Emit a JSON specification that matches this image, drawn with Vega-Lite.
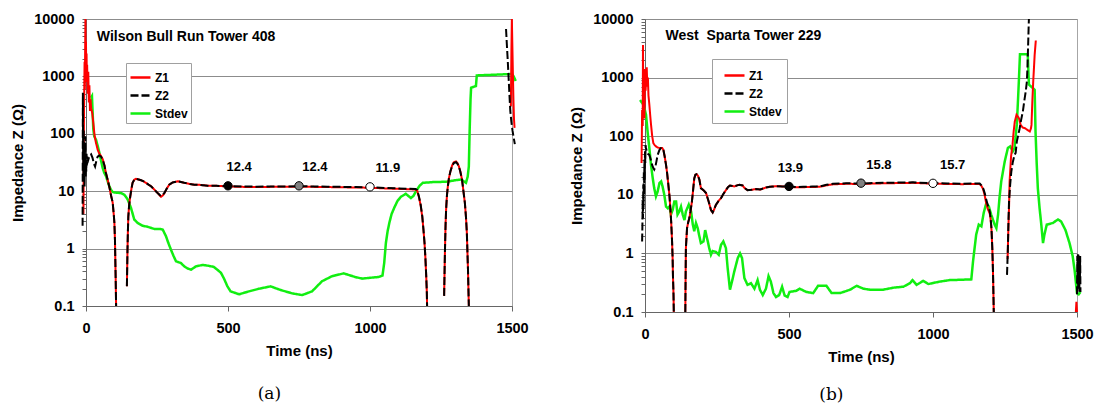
{
"$schema": "https://vega.github.io/schema/vega-lite/v6.json",
"padding": {"left": 10, "top": 10, "right": 0, "bottom": 0},
"spacing": 40,
"config": {
 "view": {"stroke": "#a6a6a6", "strokeWidth": 1},
 "axis": {"labelFont": "Liberation Sans", "labelFontWeight": "bold", "labelFontSize": 14.5, "labelColor": "#000", "titleFont": "Liberation Sans", "titleFontWeight": "bold", "titleFontSize": 15, "titleColor": "#000", "domainColor": "#666", "tickColor": "#666"}
},
"datasets": {
"a": [
{"s":"Z2","g":1,"t":-12,"z":2.5},{"s":"Z2","g":1,"t":-11,"z":520},{"s":"Z2","g":1,"t":-10,"z":40},{"s":"Z2","g":1,"t":-9,"z":15},{"s":"Z2","g":1,"t":-8,"z":120},{"s":"Z2","g":1,"t":-7,"z":20},{"s":"Z2","g":1,"t":-6,"z":70},{"s":"Z2","g":1,"t":-5,"z":12},{"s":"Z2","g":1,"t":-4,"z":50},{"s":"Z2","g":1,"t":-3,"z":25},{"s":"Z2","g":1,"t":-2,"z":90},{"s":"Z2","g":1,"t":-1,"z":18},{"s":"Z2","g":1,"t":0,"z":35},{"s":"Z2","g":1,"t":1,"z":22},{"s":"Z2","g":1,"t":2,"z":45},{"s":"Z2","g":1,"t":3,"z":28},{"s":"Z2","g":1,"t":5,"z":40},{"s":"Z2","g":1,"t":8,"z":35},{"s":"Z2","g":1,"t":12,"z":41},{"s":"Z2","g":1,"t":18,"z":44},{"s":"Z2","g":1,"t":23,"z":38},{"s":"Z2","g":1,"t":28,"z":30},{"s":"Z2","g":1,"t":32,"z":27},{"s":"Z2","g":1,"t":36,"z":33},{"s":"Z2","g":1,"t":41,"z":40},{"s":"Z2","g":1,"t":47,"z":42},{"s":"Z2","g":1,"t":53,"z":40},{"s":"Z2","g":1,"t":59,"z":35},{"s":"Z2","g":1,"t":65,"z":28},{"s":"Z2","g":1,"t":70,"z":21},{"s":"Z2","g":1,"t":76,"z":16},{"s":"Z2","g":1,"t":82,"z":12},{"s":"Z2","g":1,"t":88,"z":8.5},{"s":"Z2","g":1,"t":94,"z":6.3},{"s":"Z2","g":1,"t":98,"z":3.8},{"s":"Z2","g":1,"t":100,"z":2.8},{"s":"Z2","g":1,"t":102,"z":1.4},{"s":"Z2","g":1,"t":103,"z":0.74},{"s":"Z2","g":1,"t":104.5,"z":0.3},{"s":"Z2","g":1,"t":106,"z":0.1},
{"s":"Z2","g":2,"t":144,"z":0.22},{"s":"Z2","g":2,"t":146,"z":0.9},{"s":"Z2","g":2,"t":147.5,"z":2},{"s":"Z2","g":2,"t":149,"z":3.6},{"s":"Z2","g":2,"t":152,"z":5.8},{"s":"Z2","g":2,"t":156,"z":8.2},{"s":"Z2","g":2,"t":160,"z":11},{"s":"Z2","g":2,"t":164,"z":14},{"s":"Z2","g":2,"t":170,"z":15.8},{"s":"Z2","g":2,"t":176,"z":16.4},{"s":"Z2","g":2,"t":185,"z":16},{"s":"Z2","g":2,"t":194,"z":15.5},{"s":"Z2","g":2,"t":203,"z":14.8},{"s":"Z2","g":2,"t":211,"z":14},{"s":"Z2","g":2,"t":220,"z":13},{"s":"Z2","g":2,"t":229,"z":12.2},{"s":"Z2","g":2,"t":238,"z":11},{"s":"Z2","g":2,"t":246,"z":10},{"s":"Z2","g":2,"t":255,"z":9},{"s":"Z2","g":2,"t":264,"z":8.2},{"s":"Z2","g":2,"t":270,"z":8.6},{"s":"Z2","g":2,"t":276,"z":9.3},{"s":"Z2","g":2,"t":284,"z":11},{"s":"Z2","g":2,"t":293,"z":13},{"s":"Z2","g":2,"t":305,"z":14.2},{"s":"Z2","g":2,"t":323,"z":14.9},{"s":"Z2","g":2,"t":346,"z":14},{"s":"Z2","g":2,"t":365,"z":13.4},{"s":"Z2","g":2,"t":381,"z":13},{"s":"Z2","g":2,"t":400,"z":12.9},{"s":"Z2","g":2,"t":428,"z":12.5},{"s":"Z2","g":2,"t":460,"z":12.4},{"s":"Z2","g":2,"t":500,"z":12.3},{"s":"Z2","g":2,"t":550,"z":12.1},{"s":"Z2","g":2,"t":600,"z":12.0},{"s":"Z2","g":2,"t":650,"z":12.1},{"s":"Z2","g":2,"t":700,"z":12.1},{"s":"Z2","g":2,"t":750,"z":12.2},{"s":"Z2","g":2,"t":800,"z":12.1},{"s":"Z2","g":2,"t":850,"z":12.0},{"s":"Z2","g":2,"t":900,"z":11.9},{"s":"Z2","g":2,"t":950,"z":11.8},{"s":"Z2","g":2,"t":1000,"z":11.7},{"s":"Z2","g":2,"t":1050,"z":11.4},{"s":"Z2","g":2,"t":1100,"z":11.2},{"s":"Z2","g":2,"t":1140,"z":11},{"s":"Z2","g":2,"t":1160,"z":10.9},{"s":"Z2","g":2,"t":1166,"z":10.5},{"s":"Z2","g":2,"t":1172,"z":8.2},{"s":"Z2","g":2,"t":1178,"z":6},{"s":"Z2","g":2,"t":1184,"z":3.7},{"s":"Z2","g":2,"t":1188,"z":2.2},{"s":"Z2","g":2,"t":1192,"z":1.25},{"s":"Z2","g":2,"t":1195,"z":0.7},{"s":"Z2","g":2,"t":1198,"z":0.33},{"s":"Z2","g":2,"t":1200,"z":0.18},{"s":"Z2","g":2,"t":1201,"z":0.1},
{"s":"Z2","g":3,"t":1261,"z":0.15},{"s":"Z2","g":3,"t":1264,"z":0.96},{"s":"Z2","g":3,"t":1266,"z":2.5},{"s":"Z2","g":3,"t":1268,"z":4.8},{"s":"Z2","g":3,"t":1271,"z":8.5},{"s":"Z2","g":3,"t":1274,"z":12},{"s":"Z2","g":3,"t":1278,"z":17},{"s":"Z2","g":3,"t":1283,"z":22},{"s":"Z2","g":3,"t":1289,"z":27},{"s":"Z2","g":3,"t":1295,"z":31},{"s":"Z2","g":3,"t":1303,"z":32},{"s":"Z2","g":3,"t":1308,"z":30},{"s":"Z2","g":3,"t":1313,"z":27},{"s":"Z2","g":3,"t":1318,"z":22},{"s":"Z2","g":3,"t":1324,"z":16},{"s":"Z2","g":3,"t":1329,"z":10},{"s":"Z2","g":3,"t":1334,"z":6.3},{"s":"Z2","g":3,"t":1338,"z":3.5},{"s":"Z2","g":3,"t":1341,"z":1.9},{"s":"Z2","g":3,"t":1343,"z":0.9},{"s":"Z2","g":3,"t":1345,"z":0.43},{"s":"Z2","g":3,"t":1348,"z":0.1},
{"s":"Z2","g":4,"t":1479,"z":6700},{"s":"Z2","g":4,"t":1482,"z":3500},{"s":"Z2","g":4,"t":1485,"z":1900},{"s":"Z2","g":4,"t":1488,"z":960},{"s":"Z2","g":4,"t":1491,"z":480},{"s":"Z2","g":4,"t":1494,"z":250},{"s":"Z2","g":4,"t":1498,"z":160},{"s":"Z2","g":4,"t":1502,"z":112},{"s":"Z2","g":4,"t":1506,"z":85},{"s":"Z2","g":4,"t":1510,"z":66},
{"s":"Z1","g":1,"t":-9,"z":4},{"s":"Z1","g":1,"t":-7,"z":250},{"s":"Z1","g":1,"t":-5,"z":1800},{"s":"Z1","g":1,"t":-4,"z":600},{"s":"Z1","g":1,"t":-3,"z":3000},{"s":"Z1","g":1,"t":-2,"z":10000},{"s":"Z1","g":1,"t":-1,"z":1500},{"s":"Z1","g":1,"t":0,"z":4000},{"s":"Z1","g":1,"t":1,"z":800},{"s":"Z1","g":1,"t":2,"z":2500},{"s":"Z1","g":1,"t":3,"z":900},{"s":"Z1","g":1,"t":4,"z":1600},{"s":"Z1","g":1,"t":6,"z":500},{"s":"Z1","g":1,"t":8,"z":1200},{"s":"Z1","g":1,"t":10,"z":350},{"s":"Z1","g":1,"t":12,"z":700},{"s":"Z1","g":1,"t":14,"z":250},{"s":"Z1","g":1,"t":16,"z":400},{"s":"Z1","g":1,"t":18,"z":280},{"s":"Z1","g":1,"t":22,"z":230},{"s":"Z1","g":1,"t":26,"z":150},{"s":"Z1","g":1,"t":30,"z":95},{"s":"Z1","g":1,"t":35,"z":70},{"s":"Z1","g":1,"t":41,"z":53},{"s":"Z1","g":1,"t":47,"z":45},{"s":"Z1","g":1,"t":53,"z":41},{"s":"Z1","g":1,"t":59,"z":36},{"s":"Z1","g":1,"t":65,"z":28},{"s":"Z1","g":1,"t":70,"z":21},{"s":"Z1","g":1,"t":76,"z":16},{"s":"Z1","g":1,"t":82,"z":12},{"s":"Z1","g":1,"t":88,"z":8.5},{"s":"Z1","g":1,"t":94,"z":6.3},{"s":"Z1","g":1,"t":98,"z":3.8},{"s":"Z1","g":1,"t":100,"z":2.8},{"s":"Z1","g":1,"t":102,"z":1.4},{"s":"Z1","g":1,"t":103,"z":0.74},{"s":"Z1","g":1,"t":104.5,"z":0.3},{"s":"Z1","g":1,"t":106,"z":0.1},
{"s":"Z1","g":2,"t":144,"z":0.22},{"s":"Z1","g":2,"t":146,"z":0.9},{"s":"Z1","g":2,"t":147.5,"z":2},{"s":"Z1","g":2,"t":149,"z":3.6},{"s":"Z1","g":2,"t":152,"z":5.8},{"s":"Z1","g":2,"t":156,"z":8.2},{"s":"Z1","g":2,"t":160,"z":11},{"s":"Z1","g":2,"t":164,"z":14},{"s":"Z1","g":2,"t":170,"z":15.8},{"s":"Z1","g":2,"t":176,"z":16.4},{"s":"Z1","g":2,"t":185,"z":16},{"s":"Z1","g":2,"t":194,"z":15.5},{"s":"Z1","g":2,"t":203,"z":14.8},{"s":"Z1","g":2,"t":211,"z":14},{"s":"Z1","g":2,"t":220,"z":13},{"s":"Z1","g":2,"t":229,"z":12.2},{"s":"Z1","g":2,"t":238,"z":11},{"s":"Z1","g":2,"t":246,"z":10},{"s":"Z1","g":2,"t":255,"z":9},{"s":"Z1","g":2,"t":264,"z":8.0},{"s":"Z1","g":2,"t":270,"z":8.4},{"s":"Z1","g":2,"t":276,"z":9.2},{"s":"Z1","g":2,"t":284,"z":11},{"s":"Z1","g":2,"t":293,"z":13},{"s":"Z1","g":2,"t":305,"z":14.2},{"s":"Z1","g":2,"t":323,"z":14.9},{"s":"Z1","g":2,"t":346,"z":14},{"s":"Z1","g":2,"t":365,"z":13.4},{"s":"Z1","g":2,"t":381,"z":13},{"s":"Z1","g":2,"t":400,"z":12.9},{"s":"Z1","g":2,"t":428,"z":12.5},{"s":"Z1","g":2,"t":460,"z":12.4},{"s":"Z1","g":2,"t":500,"z":12.1},{"s":"Z1","g":2,"t":550,"z":11.9},{"s":"Z1","g":2,"t":600,"z":11.8},{"s":"Z1","g":2,"t":650,"z":11.9},{"s":"Z1","g":2,"t":700,"z":11.9},{"s":"Z1","g":2,"t":750,"z":12.0},{"s":"Z1","g":2,"t":800,"z":11.9},{"s":"Z1","g":2,"t":850,"z":11.8},{"s":"Z1","g":2,"t":900,"z":11.7},{"s":"Z1","g":2,"t":950,"z":11.6},{"s":"Z1","g":2,"t":1000,"z":11.5},{"s":"Z1","g":2,"t":1050,"z":11.2},{"s":"Z1","g":2,"t":1100,"z":11.0},{"s":"Z1","g":2,"t":1140,"z":10.8},{"s":"Z1","g":2,"t":1160,"z":10.7},{"s":"Z1","g":2,"t":1166,"z":10.3},{"s":"Z1","g":2,"t":1172,"z":8.0},{"s":"Z1","g":2,"t":1178,"z":5.8},{"s":"Z1","g":2,"t":1184,"z":3.6},{"s":"Z1","g":2,"t":1188,"z":2.2},{"s":"Z1","g":2,"t":1192,"z":1.25},{"s":"Z1","g":2,"t":1195,"z":0.7},{"s":"Z1","g":2,"t":1198,"z":0.33},{"s":"Z1","g":2,"t":1200,"z":0.18},{"s":"Z1","g":2,"t":1201,"z":0.1},
{"s":"Z1","g":3,"t":1261,"z":0.15},{"s":"Z1","g":3,"t":1264,"z":0.96},{"s":"Z1","g":3,"t":1266,"z":2.5},{"s":"Z1","g":3,"t":1268,"z":4.8},{"s":"Z1","g":3,"t":1271,"z":8.5},{"s":"Z1","g":3,"t":1274,"z":12},{"s":"Z1","g":3,"t":1278,"z":17},{"s":"Z1","g":3,"t":1283,"z":22},{"s":"Z1","g":3,"t":1289,"z":28},{"s":"Z1","g":3,"t":1295,"z":32},{"s":"Z1","g":3,"t":1303,"z":33},{"s":"Z1","g":3,"t":1308,"z":31},{"s":"Z1","g":3,"t":1313,"z":27},{"s":"Z1","g":3,"t":1318,"z":22},{"s":"Z1","g":3,"t":1324,"z":16},{"s":"Z1","g":3,"t":1329,"z":10},{"s":"Z1","g":3,"t":1334,"z":6.3},{"s":"Z1","g":3,"t":1338,"z":3.5},{"s":"Z1","g":3,"t":1341,"z":1.9},{"s":"Z1","g":3,"t":1343,"z":0.9},{"s":"Z1","g":3,"t":1345,"z":0.43},{"s":"Z1","g":3,"t":1348,"z":0.1},
{"s":"Z1","g":4,"t":1496,"z":300},{"s":"Z1","g":4,"t":1498,"z":3000},{"s":"Z1","g":4,"t":1499.5,"z":10000},{"s":"Z1","g":4,"t":1501,"z":4000},{"s":"Z1","g":4,"t":1503,"z":1200},{"s":"Z1","g":4,"t":1505,"z":400},{"s":"Z1","g":4,"t":1507,"z":180},{"s":"Z1","g":4,"t":1509,"z":127},
{"s":"Stdev","g":1,"t":17.6,"z":425},{"s":"Stdev","g":1,"t":21,"z":454},{"s":"Stdev","g":1,"t":25.8,"z":119},{"s":"Stdev","g":1,"t":29,"z":90},{"s":"Stdev","g":1,"t":35.2,"z":79},{"s":"Stdev","g":1,"t":41,"z":62},{"s":"Stdev","g":1,"t":47,"z":47},{"s":"Stdev","g":1,"t":53,"z":34},{"s":"Stdev","g":1,"t":58.7,"z":25.5},{"s":"Stdev","g":1,"t":64,"z":21},{"s":"Stdev","g":1,"t":70.4,"z":18.3},{"s":"Stdev","g":1,"t":76,"z":15},{"s":"Stdev","g":1,"t":82.2,"z":12.2},{"s":"Stdev","g":1,"t":88,"z":10.6},{"s":"Stdev","g":1,"t":93.9,"z":9.7},{"s":"Stdev","g":1,"t":100,"z":9.5},{"s":"Stdev","g":1,"t":111.5,"z":9.4},{"s":"Stdev","g":1,"t":125,"z":9.2},{"s":"Stdev","g":1,"t":135,"z":8.7},{"s":"Stdev","g":1,"t":146.7,"z":7.2},{"s":"Stdev","g":1,"t":158.5,"z":5.1},{"s":"Stdev","g":1,"t":170,"z":3.2},{"s":"Stdev","g":1,"t":182,"z":2.8},{"s":"Stdev","g":1,"t":199.5,"z":2.5},{"s":"Stdev","g":1,"t":217,"z":2.4},{"s":"Stdev","g":1,"t":240.6,"z":2.2},{"s":"Stdev","g":1,"t":260,"z":2.2},{"s":"Stdev","g":1,"t":270,"z":2.15},{"s":"Stdev","g":1,"t":281.7,"z":1.64},{"s":"Stdev","g":1,"t":290,"z":1.25},{"s":"Stdev","g":1,"t":299,"z":0.96},{"s":"Stdev","g":1,"t":308,"z":0.75},{"s":"Stdev","g":1,"t":317,"z":0.6},{"s":"Stdev","g":1,"t":334.5,"z":0.56},{"s":"Stdev","g":1,"t":346,"z":0.49},{"s":"Stdev","g":1,"t":358,"z":0.45},{"s":"Stdev","g":1,"t":370,"z":0.43},{"s":"Stdev","g":1,"t":387,"z":0.49},{"s":"Stdev","g":1,"t":411,"z":0.52},{"s":"Stdev","g":1,"t":433,"z":0.5},{"s":"Stdev","g":1,"t":450,"z":0.48},{"s":"Stdev","g":1,"t":462,"z":0.43},{"s":"Stdev","g":1,"t":475,"z":0.38},{"s":"Stdev","g":1,"t":486,"z":0.3},{"s":"Stdev","g":1,"t":498,"z":0.22},{"s":"Stdev","g":1,"t":509,"z":0.18},{"s":"Stdev","g":1,"t":539,"z":0.16},{"s":"Stdev","g":1,"t":574,"z":0.18},{"s":"Stdev","g":1,"t":609,"z":0.2},{"s":"Stdev","g":1,"t":650,"z":0.22},{"s":"Stdev","g":1,"t":685,"z":0.19},{"s":"Stdev","g":1,"t":726,"z":0.166},{"s":"Stdev","g":1,"t":761,"z":0.155},{"s":"Stdev","g":1,"t":796,"z":0.18},{"s":"Stdev","g":1,"t":831,"z":0.27},{"s":"Stdev","g":1,"t":866,"z":0.33},{"s":"Stdev","g":1,"t":907,"z":0.37},{"s":"Stdev","g":1,"t":948,"z":0.32},{"s":"Stdev","g":1,"t":972,"z":0.3},{"s":"Stdev","g":1,"t":1000,"z":0.31},{"s":"Stdev","g":1,"t":1030,"z":0.32},{"s":"Stdev","g":1,"t":1044,"z":0.34},{"s":"Stdev","g":1,"t":1050,"z":0.56},{"s":"Stdev","g":1,"t":1056,"z":1.26},{"s":"Stdev","g":1,"t":1062,"z":2.0},{"s":"Stdev","g":1,"t":1068,"z":2.8},{"s":"Stdev","g":1,"t":1076,"z":4.0},{"s":"Stdev","g":1,"t":1085,"z":5.1},{"s":"Stdev","g":1,"t":1097,"z":6.8},{"s":"Stdev","g":1,"t":1109,"z":8.0},{"s":"Stdev","g":1,"t":1126,"z":9.0},{"s":"Stdev","g":1,"t":1144,"z":7.6},{"s":"Stdev","g":1,"t":1153,"z":8.3},{"s":"Stdev","g":1,"t":1162,"z":10},{"s":"Stdev","g":1,"t":1175,"z":12.5},{"s":"Stdev","g":1,"t":1186,"z":14},{"s":"Stdev","g":1,"t":1221,"z":14.4},{"s":"Stdev","g":1,"t":1268,"z":14.6},{"s":"Stdev","g":1,"t":1303,"z":15.6},{"s":"Stdev","g":1,"t":1321,"z":16},{"s":"Stdev","g":1,"t":1338,"z":14},{"s":"Stdev","g":1,"t":1344,"z":18},{"s":"Stdev","g":1,"t":1348,"z":27},{"s":"Stdev","g":1,"t":1351,"z":120},{"s":"Stdev","g":1,"t":1354,"z":400},{"s":"Stdev","g":1,"t":1356,"z":635},{"s":"Stdev","g":1,"t":1373,"z":680},{"s":"Stdev","g":1,"t":1376,"z":1040},{"s":"Stdev","g":1,"t":1500,"z":1100},{"s":"Stdev","g":1,"t":1506,"z":1000},{"s":"Stdev","g":1,"t":1513,"z":835}
],
"b": [
{"s":"Z2","g":1,"t":-10,"z":1.6},{"s":"Z2","g":1,"t":-9,"z":3},{"s":"Z2","g":1,"t":-8,"z":8},{"s":"Z2","g":1,"t":-7,"z":4},{"s":"Z2","g":1,"t":-6,"z":15},{"s":"Z2","g":1,"t":-5,"z":6},{"s":"Z2","g":1,"t":-4,"z":25},{"s":"Z2","g":1,"t":-3,"z":10},{"s":"Z2","g":1,"t":-2,"z":40},{"s":"Z2","g":1,"t":-1,"z":18},{"s":"Z2","g":1,"t":0,"z":55},{"s":"Z2","g":1,"t":1,"z":35},{"s":"Z2","g":1,"t":2,"z":70},{"s":"Z2","g":1,"t":3.5,"z":63},{"s":"Z2","g":1,"t":6,"z":55},{"s":"Z2","g":1,"t":10,"z":50},{"s":"Z2","g":1,"t":15,"z":48},{"s":"Z2","g":1,"t":20,"z":40},{"s":"Z2","g":1,"t":25,"z":32},{"s":"Z2","g":1,"t":29,"z":28.5},{"s":"Z2","g":1,"t":32,"z":27},{"s":"Z2","g":1,"t":36,"z":30},{"s":"Z2","g":1,"t":40,"z":38},{"s":"Z2","g":1,"t":44,"z":48},{"s":"Z2","g":1,"t":50,"z":58},{"s":"Z2","g":1,"t":56,"z":63},{"s":"Z2","g":1,"t":60,"z":63},{"s":"Z2","g":1,"t":64,"z":58},{"s":"Z2","g":1,"t":68,"z":46},{"s":"Z2","g":1,"t":73,"z":32.5},{"s":"Z2","g":1,"t":77,"z":23},{"s":"Z2","g":1,"t":81,"z":15},{"s":"Z2","g":1,"t":85,"z":9.5},{"s":"Z2","g":1,"t":88,"z":5.9},{"s":"Z2","g":1,"t":91,"z":3.4},{"s":"Z2","g":1,"t":94,"z":1.6},{"s":"Z2","g":1,"t":96,"z":0.8},{"s":"Z2","g":1,"t":97,"z":0.43},{"s":"Z2","g":1,"t":99,"z":0.2},{"s":"Z2","g":1,"t":100,"z":0.1},
{"s":"Z2","g":2,"t":140,"z":0.1},{"s":"Z2","g":2,"t":141,"z":0.4},{"s":"Z2","g":2,"t":142,"z":1.23},{"s":"Z2","g":2,"t":146,"z":2.7},{"s":"Z2","g":2,"t":150,"z":3.4},{"s":"Z2","g":2,"t":154,"z":4},{"s":"Z2","g":2,"t":158,"z":5.2},{"s":"Z2","g":2,"t":163,"z":7.7},{"s":"Z2","g":2,"t":167,"z":12},{"s":"Z2","g":2,"t":171,"z":19},{"s":"Z2","g":2,"t":175,"z":22},{"s":"Z2","g":2,"t":179,"z":22.5},{"s":"Z2","g":2,"t":184,"z":21},{"s":"Z2","g":2,"t":189,"z":18},{"s":"Z2","g":2,"t":194,"z":13},{"s":"Z2","g":2,"t":203,"z":12},{"s":"Z2","g":2,"t":212,"z":10.7},{"s":"Z2","g":2,"t":221,"z":7.7},{"s":"Z2","g":2,"t":229,"z":5.5},{"s":"Z2","g":2,"t":235,"z":5.0},{"s":"Z2","g":2,"t":240,"z":5.6},{"s":"Z2","g":2,"t":246,"z":6.7},{"s":"Z2","g":2,"t":255,"z":7.8},{"s":"Z2","g":2,"t":264,"z":8.8},{"s":"Z2","g":2,"t":272,"z":10.3},{"s":"Z2","g":2,"t":281,"z":12},{"s":"Z2","g":2,"t":288,"z":13.5},{"s":"Z2","g":2,"t":295,"z":14.4},{"s":"Z2","g":2,"t":310,"z":13.9},{"s":"Z2","g":2,"t":320,"z":14.5},{"s":"Z2","g":2,"t":328,"z":14.8},{"s":"Z2","g":2,"t":339,"z":14.4},{"s":"Z2","g":2,"t":346,"z":13},{"s":"Z2","g":2,"t":356,"z":12},{"s":"Z2","g":2,"t":370,"z":12.2},{"s":"Z2","g":2,"t":385,"z":12.5},{"s":"Z2","g":2,"t":400,"z":12.3},{"s":"Z2","g":2,"t":420,"z":13.3},{"s":"Z2","g":2,"t":433,"z":13.7},{"s":"Z2","g":2,"t":455,"z":14},{"s":"Z2","g":2,"t":478,"z":13.9},{"s":"Z2","g":2,"t":500,"z":13.9},{"s":"Z2","g":2,"t":525,"z":13.6},{"s":"Z2","g":2,"t":549,"z":13.7},{"s":"Z2","g":2,"t":580,"z":13.8},{"s":"Z2","g":2,"t":607,"z":13.9},{"s":"Z2","g":2,"t":630,"z":14.8},{"s":"Z2","g":2,"t":653,"z":15.4},{"s":"Z2","g":2,"t":699,"z":15.7},{"s":"Z2","g":2,"t":753,"z":15.6},{"s":"Z2","g":2,"t":800,"z":15.9},{"s":"Z2","g":2,"t":861,"z":16.1},{"s":"Z2","g":2,"t":930,"z":16.3},{"s":"Z2","g":2,"t":1000,"z":15.8},{"s":"Z2","g":2,"t":1050,"z":15.6},{"s":"Z2","g":2,"t":1100,"z":15.5},{"s":"Z2","g":2,"t":1162,"z":15.6},{"s":"Z2","g":2,"t":1168,"z":14.5},{"s":"Z2","g":2,"t":1174,"z":13},{"s":"Z2","g":2,"t":1180,"z":10.5},{"s":"Z2","g":2,"t":1185,"z":8.2},{"s":"Z2","g":2,"t":1191,"z":6.5},{"s":"Z2","g":2,"t":1197,"z":5.2},{"s":"Z2","g":2,"t":1200,"z":4},{"s":"Z2","g":2,"t":1203,"z":2.7},{"s":"Z2","g":2,"t":1206,"z":1.2},{"s":"Z2","g":2,"t":1208,"z":0.55},{"s":"Z2","g":2,"t":1209,"z":0.33},{"s":"Z2","g":2,"t":1211,"z":0.1},
{"s":"Z2","g":3,"t":1257,"z":0.43},{"s":"Z2","g":3,"t":1260,"z":1.23},{"s":"Z2","g":3,"t":1262,"z":3.5},{"s":"Z2","g":3,"t":1264,"z":7.7},{"s":"Z2","g":3,"t":1268,"z":15},{"s":"Z2","g":3,"t":1272,"z":25},{"s":"Z2","g":3,"t":1277,"z":36},{"s":"Z2","g":3,"t":1283,"z":48},{"s":"Z2","g":3,"t":1287,"z":52},{"s":"Z2","g":3,"t":1291,"z":81},{"s":"Z2","g":3,"t":1296,"z":105},{"s":"Z2","g":3,"t":1301,"z":137},{"s":"Z2","g":3,"t":1306,"z":190},{"s":"Z2","g":3,"t":1312,"z":265},{"s":"Z2","g":3,"t":1317,"z":400},{"s":"Z2","g":3,"t":1322,"z":580},{"s":"Z2","g":3,"t":1326,"z":860},{"s":"Z2","g":3,"t":1328,"z":1500},{"s":"Z2","g":3,"t":1330,"z":3200},{"s":"Z2","g":3,"t":1332,"z":7000},{"s":"Z2","g":3,"t":1333,"z":10000},
{"s":"Z2","g":4,"t":1500,"z":0.2},{"s":"Z2","g":4,"t":1501,"z":0.9},{"s":"Z2","g":4,"t":1502,"z":0.3},{"s":"Z2","g":4,"t":1503,"z":1.0},{"s":"Z2","g":4,"t":1504,"z":0.25},{"s":"Z2","g":4,"t":1505,"z":0.95},{"s":"Z2","g":4,"t":1506,"z":0.4},{"s":"Z2","g":4,"t":1507,"z":0.85},{"s":"Z2","g":4,"t":1508,"z":0.22},{"s":"Z2","g":4,"t":1509,"z":0.7},{"s":"Z2","g":4,"t":1510,"z":0.3},{"s":"Z2","g":4,"t":1511,"z":0.9},{"s":"Z2","g":4,"t":1512,"z":0.22},
{"s":"Z1","g":1,"t":-12,"z":35},{"s":"Z1","g":1,"t":-10,"z":280},{"s":"Z1","g":1,"t":-8,"z":150},{"s":"Z1","g":1,"t":-7,"z":3600},{"s":"Z1","g":1,"t":-6,"z":250},{"s":"Z1","g":1,"t":-4,"z":500},{"s":"Z1","g":1,"t":-2,"z":200},{"s":"Z1","g":1,"t":0,"z":1400},{"s":"Z1","g":1,"t":2,"z":600},{"s":"Z1","g":1,"t":4,"z":900},{"s":"Z1","g":1,"t":6,"z":1500},{"s":"Z1","g":1,"t":8,"z":700},{"s":"Z1","g":1,"t":10,"z":1000},{"s":"Z1","g":1,"t":12,"z":500},{"s":"Z1","g":1,"t":15,"z":350},{"s":"Z1","g":1,"t":18,"z":230},{"s":"Z1","g":1,"t":21,"z":156},{"s":"Z1","g":1,"t":25,"z":100},{"s":"Z1","g":1,"t":29,"z":76},{"s":"Z1","g":1,"t":34,"z":70},{"s":"Z1","g":1,"t":38,"z":67},{"s":"Z1","g":1,"t":44,"z":64},{"s":"Z1","g":1,"t":50,"z":63},{"s":"Z1","g":1,"t":56,"z":63},{"s":"Z1","g":1,"t":60,"z":63},{"s":"Z1","g":1,"t":64,"z":58},{"s":"Z1","g":1,"t":68,"z":46},{"s":"Z1","g":1,"t":73,"z":32.5},{"s":"Z1","g":1,"t":77,"z":23},{"s":"Z1","g":1,"t":81,"z":15},{"s":"Z1","g":1,"t":85,"z":9.5},{"s":"Z1","g":1,"t":88,"z":5.9},{"s":"Z1","g":1,"t":91,"z":3.4},{"s":"Z1","g":1,"t":94,"z":1.6},{"s":"Z1","g":1,"t":96,"z":0.8},{"s":"Z1","g":1,"t":97,"z":0.43},{"s":"Z1","g":1,"t":99,"z":0.2},{"s":"Z1","g":1,"t":100,"z":0.1},
{"s":"Z1","g":2,"t":140,"z":0.1},{"s":"Z1","g":2,"t":141,"z":0.4},{"s":"Z1","g":2,"t":142,"z":1.23},{"s":"Z1","g":2,"t":146,"z":2.7},{"s":"Z1","g":2,"t":150,"z":3.4},{"s":"Z1","g":2,"t":154,"z":4},{"s":"Z1","g":2,"t":158,"z":5.2},{"s":"Z1","g":2,"t":163,"z":7.7},{"s":"Z1","g":2,"t":167,"z":12},{"s":"Z1","g":2,"t":171,"z":19},{"s":"Z1","g":2,"t":175,"z":22},{"s":"Z1","g":2,"t":179,"z":22.5},{"s":"Z1","g":2,"t":184,"z":21},{"s":"Z1","g":2,"t":189,"z":18},{"s":"Z1","g":2,"t":194,"z":13},{"s":"Z1","g":2,"t":203,"z":12},{"s":"Z1","g":2,"t":212,"z":10.7},{"s":"Z1","g":2,"t":221,"z":7.7},{"s":"Z1","g":2,"t":229,"z":5.5},{"s":"Z1","g":2,"t":235,"z":5.0},{"s":"Z1","g":2,"t":240,"z":5.6},{"s":"Z1","g":2,"t":246,"z":6.7},{"s":"Z1","g":2,"t":255,"z":7.8},{"s":"Z1","g":2,"t":264,"z":8.8},{"s":"Z1","g":2,"t":272,"z":10.3},{"s":"Z1","g":2,"t":281,"z":12},{"s":"Z1","g":2,"t":288,"z":13.5},{"s":"Z1","g":2,"t":295,"z":14.4},{"s":"Z1","g":2,"t":310,"z":13.9},{"s":"Z1","g":2,"t":320,"z":14.5},{"s":"Z1","g":2,"t":328,"z":14.8},{"s":"Z1","g":2,"t":339,"z":14.4},{"s":"Z1","g":2,"t":346,"z":13},{"s":"Z1","g":2,"t":356,"z":12},{"s":"Z1","g":2,"t":370,"z":12.2},{"s":"Z1","g":2,"t":385,"z":12.5},{"s":"Z1","g":2,"t":400,"z":12.3},{"s":"Z1","g":2,"t":420,"z":13.3},{"s":"Z1","g":2,"t":433,"z":13.7},{"s":"Z1","g":2,"t":455,"z":14},{"s":"Z1","g":2,"t":478,"z":13.9},{"s":"Z1","g":2,"t":500,"z":13.7},{"s":"Z1","g":2,"t":525,"z":13.4},{"s":"Z1","g":2,"t":549,"z":13.5},{"s":"Z1","g":2,"t":580,"z":13.6},{"s":"Z1","g":2,"t":607,"z":13.7},{"s":"Z1","g":2,"t":630,"z":14.5},{"s":"Z1","g":2,"t":653,"z":15.1},{"s":"Z1","g":2,"t":699,"z":15.4},{"s":"Z1","g":2,"t":753,"z":15.3},{"s":"Z1","g":2,"t":800,"z":15.6},{"s":"Z1","g":2,"t":861,"z":15.8},{"s":"Z1","g":2,"t":930,"z":16.0},{"s":"Z1","g":2,"t":1000,"z":15.5},{"s":"Z1","g":2,"t":1050,"z":15.3},{"s":"Z1","g":2,"t":1100,"z":15.2},{"s":"Z1","g":2,"t":1162,"z":15.3},{"s":"Z1","g":2,"t":1168,"z":14.2},{"s":"Z1","g":2,"t":1174,"z":12.5},{"s":"Z1","g":2,"t":1180,"z":9.5},{"s":"Z1","g":2,"t":1185,"z":7},{"s":"Z1","g":2,"t":1191,"z":5.6},{"s":"Z1","g":2,"t":1197,"z":4.8},{"s":"Z1","g":2,"t":1200,"z":3.8},{"s":"Z1","g":2,"t":1203,"z":2.6},{"s":"Z1","g":2,"t":1206,"z":1.2},{"s":"Z1","g":2,"t":1208,"z":0.55},{"s":"Z1","g":2,"t":1209,"z":0.33},{"s":"Z1","g":2,"t":1211,"z":0.1},
{"s":"Z1","g":3,"t":1259,"z":0.8},{"s":"Z1","g":3,"t":1262,"z":3},{"s":"Z1","g":3,"t":1264,"z":6},{"s":"Z1","g":3,"t":1266,"z":17},{"s":"Z1","g":3,"t":1271,"z":45},{"s":"Z1","g":3,"t":1276,"z":71},{"s":"Z1","g":3,"t":1280,"z":120},{"s":"Z1","g":3,"t":1284,"z":178},{"s":"Z1","g":3,"t":1290,"z":232},{"s":"Z1","g":3,"t":1295,"z":215},{"s":"Z1","g":3,"t":1299,"z":200},{"s":"Z1","g":3,"t":1304,"z":156},{"s":"Z1","g":3,"t":1312,"z":140},{"s":"Z1","g":3,"t":1319,"z":137},{"s":"Z1","g":3,"t":1328,"z":128},{"s":"Z1","g":3,"t":1336,"z":120},{"s":"Z1","g":3,"t":1340,"z":135},{"s":"Z1","g":3,"t":1342,"z":156},{"s":"Z1","g":3,"t":1345,"z":400},{"s":"Z1","g":3,"t":1348,"z":860},{"s":"Z1","g":3,"t":1351,"z":1600},{"s":"Z1","g":3,"t":1353,"z":2450},{"s":"Z1","g":3,"t":1357,"z":4300},
{"s":"Z1","g":4,"t":1496,"z":0.1},{"s":"Z1","g":4,"t":1498,"z":0.15},{"s":"Z1","g":4,"t":1500,"z":0.1},
{"s":"Stdev","g":1,"t":-17,"z":415},{"s":"Stdev","g":1,"t":-12,"z":380},{"s":"Stdev","g":1,"t":-8,"z":360},{"s":"Stdev","g":1,"t":-2,"z":300},{"s":"Stdev","g":1,"t":3.5,"z":232},{"s":"Stdev","g":1,"t":9,"z":120},{"s":"Stdev","g":1,"t":15,"z":63},{"s":"Stdev","g":1,"t":21,"z":32},{"s":"Stdev","g":1,"t":27,"z":19},{"s":"Stdev","g":1,"t":32,"z":13},{"s":"Stdev","g":1,"t":38,"z":9.4},{"s":"Stdev","g":1,"t":44,"z":11.4},{"s":"Stdev","g":1,"t":50,"z":15.8},{"s":"Stdev","g":1,"t":56,"z":16.9},{"s":"Stdev","g":1,"t":61,"z":13.9},{"s":"Stdev","g":1,"t":67,"z":10},{"s":"Stdev","g":1,"t":73,"z":6.3},{"s":"Stdev","g":1,"t":79,"z":5.9},{"s":"Stdev","g":1,"t":85,"z":6.3},{"s":"Stdev","g":1,"t":90,"z":4.6},{"s":"Stdev","g":1,"t":96,"z":5.5},{"s":"Stdev","g":1,"t":102,"z":7.7},{"s":"Stdev","g":1,"t":108,"z":7.7},{"s":"Stdev","g":1,"t":113,"z":4.6},{"s":"Stdev","g":1,"t":119,"z":5.2},{"s":"Stdev","g":1,"t":125,"z":6.3},{"s":"Stdev","g":1,"t":131,"z":4.6},{"s":"Stdev","g":1,"t":137,"z":3.7},{"s":"Stdev","g":1,"t":142,"z":5.2},{"s":"Stdev","g":1,"t":152,"z":6.8},{"s":"Stdev","g":1,"t":160,"z":5.2},{"s":"Stdev","g":1,"t":166,"z":3.1},{"s":"Stdev","g":1,"t":171,"z":2.4},{"s":"Stdev","g":1,"t":177,"z":3.3},{"s":"Stdev","g":1,"t":183,"z":2.7},{"s":"Stdev","g":1,"t":189,"z":1.94},{"s":"Stdev","g":1,"t":194,"z":1.5},{"s":"Stdev","g":1,"t":203,"z":1.6},{"s":"Stdev","g":1,"t":209,"z":2.5},{"s":"Stdev","g":1,"t":218,"z":1.6},{"s":"Stdev","g":1,"t":223,"z":1.23},{"s":"Stdev","g":1,"t":229,"z":0.95},{"s":"Stdev","g":1,"t":235,"z":1.1},{"s":"Stdev","g":1,"t":246,"z":1.06},{"s":"Stdev","g":1,"t":256,"z":0.95},{"s":"Stdev","g":1,"t":264,"z":1.4},{"s":"Stdev","g":1,"t":272,"z":1.6},{"s":"Stdev","g":1,"t":281,"z":1.23},{"s":"Stdev","g":1,"t":287,"z":0.56},{"s":"Stdev","g":1,"t":295,"z":0.24},{"s":"Stdev","g":1,"t":302,"z":0.33},{"s":"Stdev","g":1,"t":310,"z":0.49},{"s":"Stdev","g":1,"t":322,"z":0.83},{"s":"Stdev","g":1,"t":330,"z":1.0},{"s":"Stdev","g":1,"t":337,"z":0.83},{"s":"Stdev","g":1,"t":345,"z":0.38},{"s":"Stdev","g":1,"t":356,"z":0.29},{"s":"Stdev","g":1,"t":368,"z":0.31},{"s":"Stdev","g":1,"t":380,"z":0.25},{"s":"Stdev","g":1,"t":391,"z":0.35},{"s":"Stdev","g":1,"t":399,"z":0.24},{"s":"Stdev","g":1,"t":409,"z":0.195},{"s":"Stdev","g":1,"t":420,"z":0.25},{"s":"Stdev","g":1,"t":429,"z":0.41},{"s":"Stdev","g":1,"t":437,"z":0.33},{"s":"Stdev","g":1,"t":446,"z":0.21},{"s":"Stdev","g":1,"t":455,"z":0.18},{"s":"Stdev","g":1,"t":466,"z":0.195},{"s":"Stdev","g":1,"t":476,"z":0.27},{"s":"Stdev","g":1,"t":485,"z":0.19},{"s":"Stdev","g":1,"t":495,"z":0.18},{"s":"Stdev","g":1,"t":502,"z":0.22},{"s":"Stdev","g":1,"t":525,"z":0.23},{"s":"Stdev","g":1,"t":537,"z":0.25},{"s":"Stdev","g":1,"t":560,"z":0.22},{"s":"Stdev","g":1,"t":584,"z":0.21},{"s":"Stdev","g":1,"t":601,"z":0.28},{"s":"Stdev","g":1,"t":630,"z":0.28},{"s":"Stdev","g":1,"t":648,"z":0.21},{"s":"Stdev","g":1,"t":677,"z":0.21},{"s":"Stdev","g":1,"t":712,"z":0.24},{"s":"Stdev","g":1,"t":735,"z":0.28},{"s":"Stdev","g":1,"t":758,"z":0.25},{"s":"Stdev","g":1,"t":781,"z":0.24},{"s":"Stdev","g":1,"t":827,"z":0.24},{"s":"Stdev","g":1,"t":862,"z":0.26},{"s":"Stdev","g":1,"t":897,"z":0.27},{"s":"Stdev","g":1,"t":920,"z":0.31},{"s":"Stdev","g":1,"t":929,"z":0.35},{"s":"Stdev","g":1,"t":943,"z":0.29},{"s":"Stdev","g":1,"t":966,"z":0.34},{"s":"Stdev","g":1,"t":984,"z":0.3},{"s":"Stdev","g":1,"t":1023,"z":0.33},{"s":"Stdev","g":1,"t":1058,"z":0.35},{"s":"Stdev","g":1,"t":1133,"z":0.36},{"s":"Stdev","g":1,"t":1139,"z":0.73},{"s":"Stdev","g":1,"t":1145,"z":1.3},{"s":"Stdev","g":1,"t":1150,"z":2.1},{"s":"Stdev","g":1,"t":1159,"z":3.1},{"s":"Stdev","g":1,"t":1168,"z":2.9},{"s":"Stdev","g":1,"t":1176,"z":4.9},{"s":"Stdev","g":1,"t":1185,"z":7.2},{"s":"Stdev","g":1,"t":1194,"z":6.3},{"s":"Stdev","g":1,"t":1202,"z":4.6},{"s":"Stdev","g":1,"t":1214,"z":3.1},{"s":"Stdev","g":1,"t":1220,"z":2.7},{"s":"Stdev","g":1,"t":1226,"z":4.6},{"s":"Stdev","g":1,"t":1231,"z":9},{"s":"Stdev","g":1,"t":1237,"z":17},{"s":"Stdev","g":1,"t":1249,"z":37},{"s":"Stdev","g":1,"t":1260,"z":63},{"s":"Stdev","g":1,"t":1268,"z":67},{"s":"Stdev","g":1,"t":1277,"z":55},{"s":"Stdev","g":1,"t":1283,"z":63},{"s":"Stdev","g":1,"t":1287,"z":100},{"s":"Stdev","g":1,"t":1291,"z":156},{"s":"Stdev","g":1,"t":1295,"z":400},{"s":"Stdev","g":1,"t":1298,"z":850},{"s":"Stdev","g":1,"t":1302,"z":2500},{"s":"Stdev","g":1,"t":1329,"z":2500},{"s":"Stdev","g":1,"t":1333,"z":760},{"s":"Stdev","g":1,"t":1353,"z":620},{"s":"Stdev","g":1,"t":1356,"z":120},{"s":"Stdev","g":1,"t":1360,"z":35},{"s":"Stdev","g":1,"t":1364,"z":13},{"s":"Stdev","g":1,"t":1370,"z":6},{"s":"Stdev","g":1,"t":1376,"z":3.1},{"s":"Stdev","g":1,"t":1382,"z":1.5},{"s":"Stdev","g":1,"t":1387,"z":2.1},{"s":"Stdev","g":1,"t":1395,"z":3.1},{"s":"Stdev","g":1,"t":1416,"z":3.3},{"s":"Stdev","g":1,"t":1434,"z":3.8},{"s":"Stdev","g":1,"t":1445,"z":3.5},{"s":"Stdev","g":1,"t":1460,"z":2.5},{"s":"Stdev","g":1,"t":1474,"z":1.5},{"s":"Stdev","g":1,"t":1485,"z":0.9},{"s":"Stdev","g":1,"t":1492,"z":0.5},{"s":"Stdev","g":1,"t":1500,"z":0.21},{"s":"Stdev","g":1,"t":1506,"z":0.2},{"s":"Stdev","g":1,"t":1512,"z":0.22}
],
"ma": [{"t":500,"z":12.4,"lt":539,"lab":"12.4","k":1},{"t":750,"z":12.4,"lt":806,"lab":"12.4","k":2},{"t":1000,"z":11.9,"lt":1063,"lab":"11.9","k":3}],
"mb": [{"t":500,"z":13.9,"lt":505,"lab":"13.9","k":1},{"t":750,"z":15.8,"lt":812,"lab":"15.8","k":2},{"t":1000,"z":15.7,"lt":1068,"lab":"15.7","k":3}]
},
"hconcat": [
{
 "width": 426, "height": 287,
 "title": {"text": "(a)", "orient": "bottom", "anchor": "middle", "frame": "bounds", "font": "DejaVu Serif", "fontSize": 17, "fontWeight": "normal", "color": "#000", "offset": 27},
 "layer": [
  {"data": {"name": "a"}, "transform": [{"filter": "datum.s === 'Stdev'"}], "mark": {"type": "line", "strokeWidth": 2.5},
   "encoding": {
    "x": {"field": "t", "type": "quantitative", "scale": {"domain": [0, 1500], "nice": false, "zero": false}, "axis": {"title": "Time (ns)", "values": [0, 500, 1000, 1500], "format": "d", "grid": false, "tickSize": 5, "labelPadding": 10, "titlePadding": 9, "labelFlush": false}},
    "y": {"field": "z", "type": "quantitative", "scale": {"type": "log", "domain": [0.1, 10000], "nice": false}, "axis": {"title": "Impedance Z (Ω)", "values": [0.1,0.2,0.3,0.4,0.5,0.6,0.7,0.8,0.9,1,2,3,4,5,6,7,8,9,10,20,30,40,50,60,70,80,90,100,200,300,400,500,600,700,800,900,1000,2000,3000,4000,5000,6000,7000,8000,9000,10000], "labelExpr": "indexof([0.1,1,10,100,1000,10000], datum.value) >= 0 ? (datum.value < 1 ? '0.1' : format(datum.value, 'd')) : ''", "labelOverlap": false, "grid": true, "gridColor": "#8c8c8c", "gridWidth": 1.2, "gridOpacity": {"condition": {"test": "indexof([0.1,1,10,100,1000,10000], datum.value) < 0", "value": 0}, "value": 1}, "tickSize": 4, "labelPadding": 8, "titlePadding": 8}},
    "color": {"field": "s", "type": "nominal", "scale": {"domain": ["Z1", "Z2", "Stdev"], "range": ["#ff0000", "#000000", "#11ee11"]}, "legend": {"title": null, "orient": "none", "legendX": 40, "legendY": 44, "symbolType": "stroke", "symbolSize": 400, "symbolStrokeWidth": 2.5, "labelFont": "Liberation Sans", "labelFontWeight": "bold", "labelFontSize": 12, "labelColor": "#000", "labelOffset": 3, "strokeColor": "#a0a0a0", "fillColor": "#ffffff", "padding": 3, "rowPadding": 0}},
    "strokeDash": {"field": "s", "type": "nominal", "scale": {"domain": ["Z1", "Z2", "Stdev"], "range": [[1, 0], [8, 3], [1, 0]]}, "legend": {"title": null, "orient": "none", "legendX": 40, "legendY": 44, "symbolType": "stroke", "symbolSize": 400, "symbolStrokeWidth": 2.5, "labelFont": "Liberation Sans", "labelFontWeight": "bold", "labelFontSize": 12, "labelColor": "#000", "labelOffset": 3, "strokeColor": "#a0a0a0", "fillColor": "#ffffff", "padding": 3, "rowPadding": 0}},
    "detail": {"field": "g", "type": "nominal"}
   }},
  {"data": {"name": "a"}, "transform": [{"filter": "datum.s === 'Z1'"}], "mark": {"type": "line", "strokeWidth": 2},
   "encoding": {"x": {"field": "t", "type": "quantitative"}, "y": {"field": "z", "type": "quantitative"}, "color": {"field": "s", "type": "nominal"}, "strokeDash": {"field": "s", "type": "nominal"}, "detail": {"field": "g", "type": "nominal"}}},
  {"data": {"name": "a"}, "transform": [{"filter": "datum.s === 'Z2'"}], "mark": {"type": "line", "strokeWidth": 2},
   "encoding": {"x": {"field": "t", "type": "quantitative"}, "y": {"field": "z", "type": "quantitative"}, "color": {"field": "s", "type": "nominal"}, "strokeDash": {"field": "s", "type": "nominal"}, "detail": {"field": "g", "type": "nominal"}}},
  {"data": {"name": "ma"}, "mark": {"type": "circle", "size": 70, "stroke": "#000", "strokeWidth": 1, "opacity": 1},
   "encoding": {"x": {"field": "t", "type": "quantitative"}, "y": {"field": "z", "type": "quantitative"}, "fill": {"field": "k", "type": "nominal", "scale": {"domain": [1, 2, 3], "range": ["#000000", "#808080", "#ffffff"]}, "legend": null}}},
  {"data": {"name": "ma"}, "mark": {"type": "text", "dy": -19, "font": "Liberation Sans", "fontWeight": "bold", "fontSize": 13, "color": "#000"},
   "encoding": {"x": {"field": "lt", "type": "quantitative"}, "y": {"field": "z", "type": "quantitative"}, "text": {"field": "lab"}}},
  {"data": {"values": [{"txt": "Wilson Bull Run Tower 408"}]}, "mark": {"type": "text", "align": "left", "baseline": "middle", "font": "Liberation Sans", "fontWeight": "bold", "fontSize": 14, "color": "#000"},
   "encoding": {"x": {"datum": 38}, "y": {"datum": 4790}, "text": {"field": "txt"}}}
 ]
},
{
 "width": 432, "height": 293,
 "title": {"text": "(b)", "orient": "bottom", "anchor": "middle", "frame": "bounds", "font": "DejaVu Serif", "fontSize": 17, "fontWeight": "normal", "color": "#000", "offset": 22},
 "layer": [
  {"data": {"name": "b"}, "transform": [{"filter": "datum.s === 'Stdev'"}], "mark": {"type": "line", "strokeWidth": 2.5},
   "encoding": {
    "x": {"field": "t", "type": "quantitative", "scale": {"domain": [0, 1500], "nice": false, "zero": false}, "axis": {"title": "Time (ns)", "values": [0, 500, 1000, 1500], "format": "d", "grid": false, "tickSize": 5, "labelPadding": 10, "titlePadding": 9, "labelFlush": false}},
    "y": {"field": "z", "type": "quantitative", "scale": {"type": "log", "domain": [0.1, 10000], "nice": false}, "axis": {"title": "Impedance Z (Ω)", "values": [0.1,0.2,0.3,0.4,0.5,0.6,0.7,0.8,0.9,1,2,3,4,5,6,7,8,9,10,20,30,40,50,60,70,80,90,100,200,300,400,500,600,700,800,900,1000,2000,3000,4000,5000,6000,7000,8000,9000,10000], "labelExpr": "indexof([0.1,1,10,100,1000,10000], datum.value) >= 0 ? (datum.value < 1 ? '0.1' : format(datum.value, 'd')) : ''", "labelOverlap": false, "grid": true, "gridColor": "#8c8c8c", "gridWidth": 1.2, "gridOpacity": {"condition": {"test": "indexof([0.1,1,10,100,1000,10000], datum.value) < 0", "value": 0}, "value": 1}, "tickSize": 4, "labelPadding": 8, "titlePadding": 8}},
    "color": {"field": "s", "type": "nominal", "scale": {"domain": ["Z1", "Z2", "Stdev"], "range": ["#ff0000", "#000000", "#11ee11"]}, "legend": {"title": null, "orient": "none", "legendX": 67, "legendY": 40, "symbolType": "stroke", "symbolSize": 400, "symbolStrokeWidth": 2.5, "symbolOffset": 6, "labelFont": "Liberation Sans", "labelFontWeight": "bold", "labelFontSize": 12, "labelColor": "#000", "labelOffset": 3, "strokeColor": "#a0a0a0", "fillColor": "#ffffff", "padding": 5, "rowPadding": 0}},
    "strokeDash": {"field": "s", "type": "nominal", "scale": {"domain": ["Z1", "Z2", "Stdev"], "range": [[1, 0], [8, 3], [1, 0]]}, "legend": {"title": null, "orient": "none", "legendX": 67, "legendY": 40, "symbolType": "stroke", "symbolSize": 400, "symbolStrokeWidth": 2.5, "symbolOffset": 6, "labelFont": "Liberation Sans", "labelFontWeight": "bold", "labelFontSize": 12, "labelColor": "#000", "labelOffset": 3, "strokeColor": "#a0a0a0", "fillColor": "#ffffff", "padding": 5, "rowPadding": 0}},
    "detail": {"field": "g", "type": "nominal"}
   }},
  {"data": {"name": "b"}, "transform": [{"filter": "datum.s === 'Z1'"}], "mark": {"type": "line", "strokeWidth": 2},
   "encoding": {"x": {"field": "t", "type": "quantitative"}, "y": {"field": "z", "type": "quantitative"}, "color": {"field": "s", "type": "nominal"}, "strokeDash": {"field": "s", "type": "nominal"}, "detail": {"field": "g", "type": "nominal"}}},
  {"data": {"name": "b"}, "transform": [{"filter": "datum.s === 'Z2'"}], "mark": {"type": "line", "strokeWidth": 2},
   "encoding": {"x": {"field": "t", "type": "quantitative"}, "y": {"field": "z", "type": "quantitative"}, "color": {"field": "s", "type": "nominal"}, "strokeDash": {"field": "s", "type": "nominal"}, "detail": {"field": "g", "type": "nominal"}}},
  {"data": {"name": "mb"}, "mark": {"type": "circle", "size": 70, "stroke": "#000", "strokeWidth": 1, "opacity": 1},
   "encoding": {"x": {"field": "t", "type": "quantitative"}, "y": {"field": "z", "type": "quantitative"}, "fill": {"field": "k", "type": "nominal", "scale": {"domain": [1, 2, 3], "range": ["#000000", "#808080", "#ffffff"]}, "legend": null}}},
  {"data": {"name": "mb"}, "mark": {"type": "text", "dy": -18, "font": "Liberation Sans", "fontWeight": "bold", "fontSize": 13, "color": "#000"},
   "encoding": {"x": {"field": "lt", "type": "quantitative"}, "y": {"field": "z", "type": "quantitative"}, "text": {"field": "lab"}}},
  {"data": {"values": [{"txt": "West\u00a0 Sparta Tower 229"}]}, "mark": {"type": "text", "align": "left", "baseline": "middle", "font": "Liberation Sans", "fontWeight": "bold", "fontSize": 14, "color": "#000"},
   "encoding": {"x": {"datum": 71}, "y": {"datum": 5100}, "text": {"field": "txt"}}}
 ]
}
],
"resolve": {"scale": {"color": "independent", "strokeDash": "independent", "fill": "independent"}, "legend": {"color": "independent", "strokeDash": "independent"}}
}
